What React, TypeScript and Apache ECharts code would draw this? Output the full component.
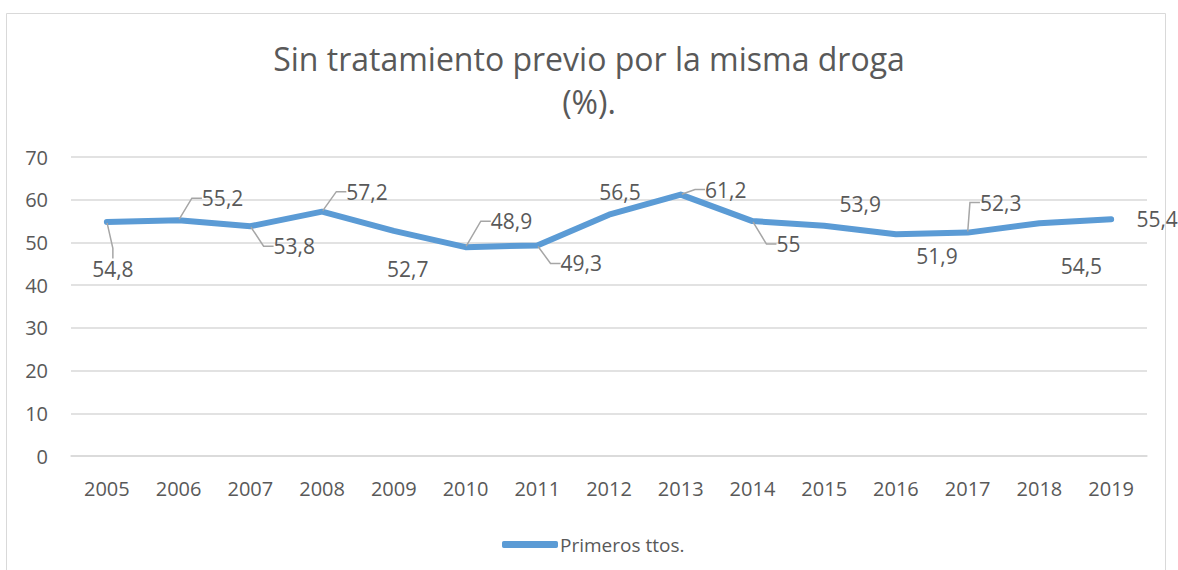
import React, { useEffect, useRef } from "react";
import * as echarts from "echarts";

const categories = ["2005", "2006", "2007", "2008", "2009", "2010", "2011", "2012", "2013", "2014", "2015", "2016", "2017", "2018", "2019"];
const values = [54.8, 55.2, 53.8, 57.2, 52.7, 48.9, 49.3, 56.5, 61.2, 55, 53.9, 51.9, 52.3, 54.5, 55.4];
const yTicks = { min: 0, max: 70, interval: 10 };
const seriesName = "Primeros ttos.";
const titleText = "Sin tratamiento previo por la misma droga\n(%).";

// label placement (styling): offset from point, and whether a leader line is drawn
const labelOffsets: [number, number][] = [
  [6, 47], [44, -22], [44, 20], [45, -20], [14, 38], [46, -26], [44, 18], [11, -23],
  [45, -5], [36, 23], [36, -22], [41, 22], [33, -30], [42, 43], [46, 0],
];
const hasLeader = [true, true, true, true, false, true, true, false, true, true, false, false, true, false, false];

const FONT = "'Open Sans', 'Noto Sans', sans-serif";
const TXT = "#595959";

export default function App() {
  const ref = useRef<HTMLDivElement>(null);
  useEffect(() => {
    if (!ref.current) return;
    const chart = echarts.init(ref.current, undefined, { renderer: "svg" });
    chart.setOption({
      animation: false,
      backgroundColor: "#ffffff",
      textStyle: { fontFamily: FONT, color: TXT },
      title: {
        text: titleText,
        left: "center",
        top: 32,
        textStyle: { fontFamily: FONT, fontSize: 32, fontWeight: "normal", color: TXT, lineHeight: 43 },
      },
      graphic: [
        {
          type: "rect",
          shape: { x: 6.5, y: 13.5, width: 1159, height: 600 },
          style: { fill: "none", stroke: "#D9D9D9", lineWidth: 1 },
          silent: true,
          z: -10,
        },
      ],
      legend: {
        data: [seriesName],
        left: 497,
        top: 530,
        icon: "roundRect",
        itemWidth: 56,
        itemHeight: 7,
        textStyle: { fontFamily: FONT, fontSize: 19, color: TXT, padding: [0, 0, 0, -3] },
      },
      grid: { left: 71, right: 31, top: 157, bottom: 114, containLabel: false },
      xAxis: {
        type: "category",
        data: categories,
        boundaryGap: true,
        axisLine: { show: true, lineStyle: { color: "#D9D9D9", width: 1.5 } },
        axisTick: { show: false },
        axisLabel: { fontFamily: FONT, fontSize: 20, color: TXT, margin: 22 },
      },
      yAxis: {
        type: "value",
        min: yTicks.min,
        max: yTicks.max,
        interval: yTicks.interval,
        axisLine: { show: false },
        axisTick: { show: false },
        splitLine: { lineStyle: { color: "#D9D9D9", width: 1.5 } },
        axisLabel: { fontFamily: FONT, fontSize: 20, color: TXT, margin: 23 },
      },
      series: [
        {
          name: seriesName,
          type: "line",
          data: values.map((v, i) => ({
            value: v,
            labelLine: { show: hasLeader[i] },
          })),
          symbol: "circle",
          symbolSize: 2,
          showSymbol: true,
          itemStyle: { color: "#5B9BD5" },
          lineStyle: { color: "#5B9BD5", width: 6, cap: "round", join: "round" },
          label: {
            show: true,
            position: "inside",
            fontFamily: FONT,
            fontSize: 21,
            color: TXT,
            formatter: (p: any) => String(p.value).replace(".", ","),
          },
          labelLine: {
            show: true,
            length2: 10,
            lineStyle: { color: "#A6A6A6", width: 1.5 },
          },
          labelLayout: (params: any) => {
            const o = labelOffsets[params.dataIndex] || [0, 0];
            return { dx: o[0], dy: o[1] };
          },
        },
      ],
    });
    return () => chart.dispose();
  }, []);
  return (
    <div
      ref={ref}
      style={{ position: "absolute", left: 0, top: 0, width: 1178, height: 570 }}
    />
  );
}
